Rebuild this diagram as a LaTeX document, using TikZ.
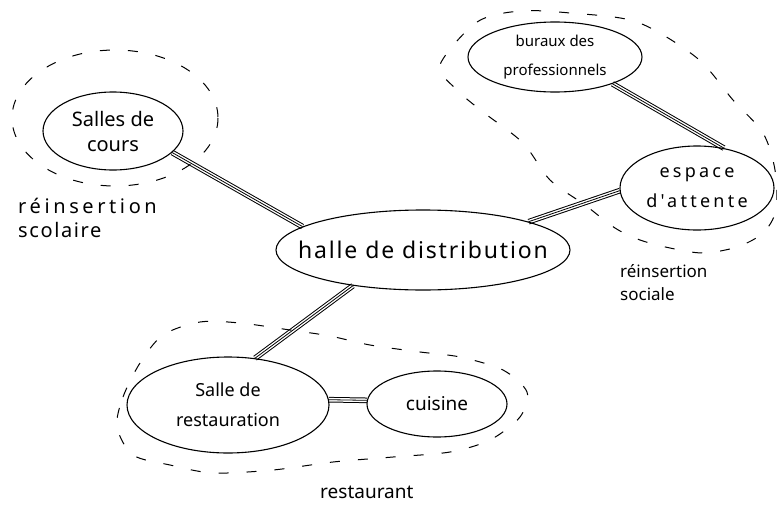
\documentclass[tikz,border=0pt]{standalone}
\usepackage{fontspec}
\setmainfont{Noto Sans}
\newfontfamily\spacedhand{Noto Sans}[LetterSpace=18]
\newfontfamily\lighthand{Noto Sans}[LetterSpace=8]
\usetikzlibrary{shapes.geometric,backgrounds}
\begin{document}
\begin{tikzpicture}[x=1pt,y=-1pt,
  blob/.style={ellipse, draw, line width=1.1pt, inner sep=-12pt, align=center},
  lab/.style={inner sep=0pt, anchor=base west, font=\fontsize{17}{22}\selectfont},
  zone/.style={line width=1pt, dash pattern=on 10pt off 18pt},
  trip/.style={draw=white, line width=3.6pt, preaction={draw=black, line width=5.6pt}, postaction={draw=black, line width=0.8pt}}]
\useasboundingbox (0,0) rectangle (777,506);
% nodes
\node[blob, minimum width=140pt, minimum height=78pt, font=\fontsize{20}{25}\selectfont] (salles) at (113,131) {Salles de\\cours};
\node[blob, minimum width=294pt, minimum height=80pt, inner xsep=-30pt, font=\fontsize{23}{28}\lighthand] (halle) at (423,250) {halle de distribution};
\node[blob, minimum width=174pt, minimum height=70pt, font=\fontsize{15}{29}\selectfont] (bureaux) at (555,57) {buraux des\\professionnels};
\node[blob, minimum width=154pt, minimum height=84pt, font=\fontsize{18}{30}\spacedhand] (espace) at (697,188) {espace\\d'attente};
\node[blob, minimum width=202pt, minimum height=96pt, font=\fontsize{18}{30}\selectfont] (resto) at (228,405) {Salle de\\restauration};
\node[blob, minimum width=140pt, minimum height=66pt, font=\fontsize{19}{22}\selectfont] (cuisine) at (437,404) {cuisine};
% labels
\node[lab, font=\fontsize{20}{24}\spacedhand] (l1) at (18,213) {réinsertion};
\node[lab, font=\fontsize{20}{24}\lighthand] (l2) at (18,237) {scolaire};
\node[lab] (l3) at (620,277) {réinsertion};
\node[lab] (l4) at (620,300) {sociale};
\node[lab, font=\fontsize{19}{22}\selectfont] (l5) at (320,498) {restaurant};
% zones
\draw[zone] (115,118) ellipse [x radius=103, y radius=68];
\draw[zone] plot[smooth cycle] coordinates {(440,65) (477,22) (520,11) (570,13) (637,22) (697,58) (733,100) (763,133) (775,170) (776,210) (763,233) (737,247) (703,253) (670,248) (640,240) (615,228) (585,205) (550,180) (523,143) (483,112) (457,90)};
\draw[zone] plot[smooth cycle] coordinates {(117,427) (123,397) (140,363) (163,335) (200,322) (240,323) (290,330) (330,336) (370,345) (420,352) (460,357) (503,370) (527,392) (520,417) (490,440) (450,452) (393,457) (333,462) (273,470) (213,473) (170,465) (133,455)};
% connectors
\begin{pgfonlayer}{background}
\draw[trip] (salles.-20) -- (halle.169);
\draw[trip] (halle.15) -- (espace.182);
\draw[trip] (bureaux.-25) -- (espace.56);
\draw[trip] (halle.207) -- (resto.60);
\draw[trip] (resto.3) -- (cuisine.177);
\end{pgfonlayer}
\end{tikzpicture}
\end{document}
